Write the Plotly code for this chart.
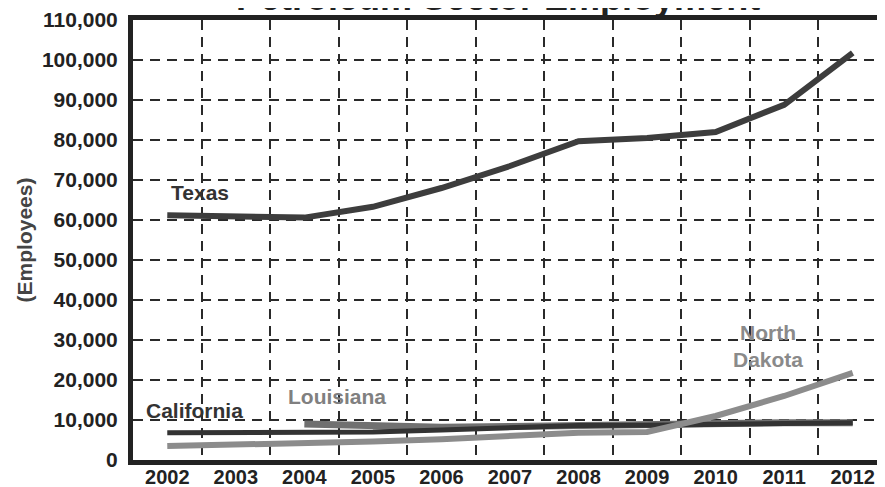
import plotly.graph_objects as go

years = [2002, 2003, 2004, 2005, 2006, 2007, 2008, 2009, 2010, 2011, 2012]
texas = [61200, 61000, 60600, 63300, 68000, 73500, 79700, 80500, 82000, 88800, 101800]
california = [6800, 6800, 6900, 7000, 7500, 8200, 8600, 8700, 9000, 9300, 9300]
louisiana = [None, None, 9000, 8500, 8200, 8400, 8700, 8800, 9000, 9300, 9300]
north_dakota = [3500, 3800, 4200, 4600, 5200, 6000, 6800, 7000, 11000, 16000, 21800]
y_ticks = list(range(0, 110001, 10000))
boundaries = [y + 0.5 for y in years[:-1]]

FONT = "Liberation Sans, Arial, sans-serif"
DASH = "10px,7px"

fig = go.Figure()
fig.add_trace(go.Scatter(x=years, y=louisiana, mode="lines",
                         line=dict(color="#707070", width=7), name="Louisiana"))
fig.add_trace(go.Scatter(x=years, y=california, mode="lines",
                         line=dict(color="#333333", width=5), name="California"))
fig.add_trace(go.Scatter(x=years, y=north_dakota, mode="lines",
                         line=dict(color="#8c8c8c", width=6), name="North Dakota"))
fig.add_trace(go.Scatter(x=years, y=texas, mode="lines",
                         line=dict(color="#3d3d3d", width=6), name="Texas"))
# invisible trace on a second x axis that carries the vertical grid lines
fig.add_trace(go.Scatter(x=boundaries, y=[None] * len(boundaries), xaxis="x2",
                         mode="lines", showlegend=False, hoverinfo="skip"))

labels = [
    ("Texas", 2002.48, 67000, "#333333"),
    ("California", 2002.4, 12500, "#333333"),
    ("Louisiana", 2004.48, 16000, "#808080"),
    ("North<br>Dakota", 2010.76, 28500, "#8a8a8a"),
]
for text, x, y, c in labels:
    fig.add_annotation(x=x, y=y, text=text, showarrow=False,
                       font=dict(family=FONT, size=21, color=c, weight="bold"))

# chart title, mostly above the top edge as in the reference
fig.add_annotation(x=0.484, y=1, xref="paper", yref="paper", xanchor="center",
                   yanchor="bottom", yshift=0, showarrow=False,
                   text="Petroleum Sector Employment",
                   font=dict(family=FONT, size=36, color="#222222", weight="bold"))

fig.update_layout(
    width=885, height=487,
    margin=dict(l=125, r=6, t=12, b=35),
    paper_bgcolor="white", plot_bgcolor="white",
    showlegend=False,
    xaxis=dict(range=[2001.5, 2012.5], tickvals=years, ticktext=[str(y) for y in years],
               showgrid=False, zeroline=False,
               showline=True, linecolor="#222222", linewidth=5, mirror=True,
               tickfont=dict(family=FONT, size=20, color="#222222", weight="bold"),
               ticks="", ticklabelstandoff=-5, automargin=False),
    xaxis2=dict(range=[2001.5, 2012.5], overlaying="x", tickvals=boundaries,
                showticklabels=False, showgrid=True, gridcolor="#2a2a2a",
                gridwidth=2, griddash=DASH, zeroline=False, showline=False),
    yaxis=dict(range=[0, 110000], tickvals=y_ticks, tickformat=",",
               showgrid=True, gridcolor="#2a2a2a", gridwidth=2, griddash=DASH,
               zeroline=False, showline=True, linecolor="#222222", linewidth=5,
               mirror=True, ticks="", ticklabelstandoff=6,
               tickfont=dict(family=FONT, size=21, color="#222222", weight="bold"),
               title=dict(text="(Employees)", standoff=5,
                          font=dict(family=FONT, size=21, color="#444444", weight="bold")),
               automargin=False),
)

fig.write_html("out.html")
